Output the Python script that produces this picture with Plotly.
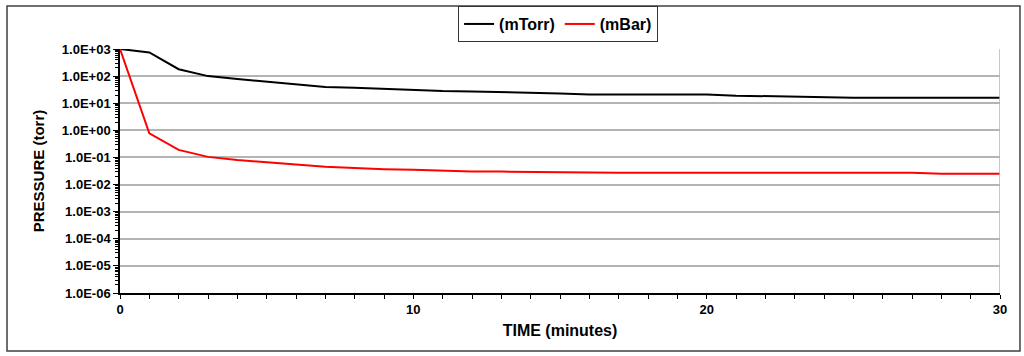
import plotly.graph_objects as go

# время откачки, минуты
time_min = list(range(0, 31))
# давление, две серии
p_mtorr = [1000, 750, 180, 100, 78, 63, 50, 40, 37, 33, 30, 28, 27, 26, 25, 23,
           21, 21, 21, 21, 21, 19, 18, 18, 16, 16, 16, 16, 16, 16, 16]
p_mbar = [1000, 0.78, 0.19, 0.105, 0.08, 0.068, 0.055, 0.045, 0.04, 0.037, 0.035,
          0.032, 0.03, 0.03, 0.029, 0.028, 0.028, 0.027, 0.027, 0.027, 0.027, 0.027,
          0.027, 0.027, 0.027, 0.027, 0.027, 0.027, 0.025, 0.025, 0.025]

y_tickvals = [1e-6, 1e-5, 1e-4, 1e-3, 1e-2, 1e-1, 1e0, 1e1, 1e2, 1e3]
y_ticktext = ["1.0E-06", "1.0E-05", "1.0E-04", "1.0E-03", "1.0E-02",
              "1.0E-01", "1.0E+00", "1.0E+01", "1.0E+02", "1.0E+03"]
x_tickvals = [0, 10, 20, 30]

minor_y = [k * 10 ** e for e in range(-6, 3) for k in range(2, 10)]

font = "Liberation Sans, Arial, sans-serif"

fig = go.Figure()
fig.add_trace(go.Scatter(x=time_min, y=p_mtorr, name="(mTorr)", mode="lines",
                         line=dict(color="black", width=2)))
fig.add_trace(go.Scatter(x=time_min, y=p_mbar, name="(mBar)", mode="lines",
                         line=dict(color="#ff0000", width=2)))

fig.update_xaxes(
    range=[0, 30], tickvals=x_tickvals, ticks="outside", ticklen=4,
    tickcolor="black", showline=True, linecolor="black", linewidth=1.5,
    showgrid=False, zeroline=False,
    minor=dict(dtick=1, ticks="outside", ticklen=4, tickcolor="black", showgrid=False),
    tickfont=dict(family=font, size=13, color="black", weight="bold"),
    title=dict(text="TIME (minutes)", standoff=8,
               font=dict(family=font, size=16, color="black", weight="bold")),
)
fig.update_yaxes(
    type="log", range=[-6, 3], tickvals=y_tickvals, ticktext=y_ticktext,
    ticks="outside", ticklen=5, tickcolor="black",
    showline=True, linecolor="black", linewidth=1.5,
    showgrid=True, gridcolor="#b4b4b4", gridwidth=1.5, zeroline=False,
    minor=dict(tickvals=minor_y, ticks="outside", ticklen=3, tickcolor="black", showgrid=False),
    tickfont=dict(family=font, size=13, color="black", weight="bold"),
    title=dict(text="PRESSURE (torr)", standoff=14,
               font=dict(family=font, size=15, color="black", weight="bold")),
)

# правая граница области построения
fig.add_shape(type="line", xref="x", yref="paper", x0=30, x1=30, y0=0, y1=1,
              line=dict(color="#b4b4b4", width=1.5))
# рамка вокруг всей диаграммы
fig.add_shape(type="rect", xref="paper", yref="paper",
              x0=-0.1284, x1=1.0227, y0=-0.238, y1=1.176,
              line=dict(color="#404040", width=1.5))

fig.update_layout(
    width=1024, height=356,
    margin=dict(l=120, r=24, t=49, b=63, autoexpand=False),
    paper_bgcolor="white", plot_bgcolor="white",
    font=dict(family=font, color="black"),
    showlegend=True,
    legend=dict(orientation="h", xref="container", yref="container",
                x=0.545, xanchor="center", y=0.983, yanchor="top",
                bordercolor="#333333", borderwidth=1, bgcolor="white",
                font=dict(family=font, size=16, color="black", weight="bold")),
)

fig.write_html("out.html", config={"displayModeBar": False},
               post_script="document.body.style.margin='0';")
